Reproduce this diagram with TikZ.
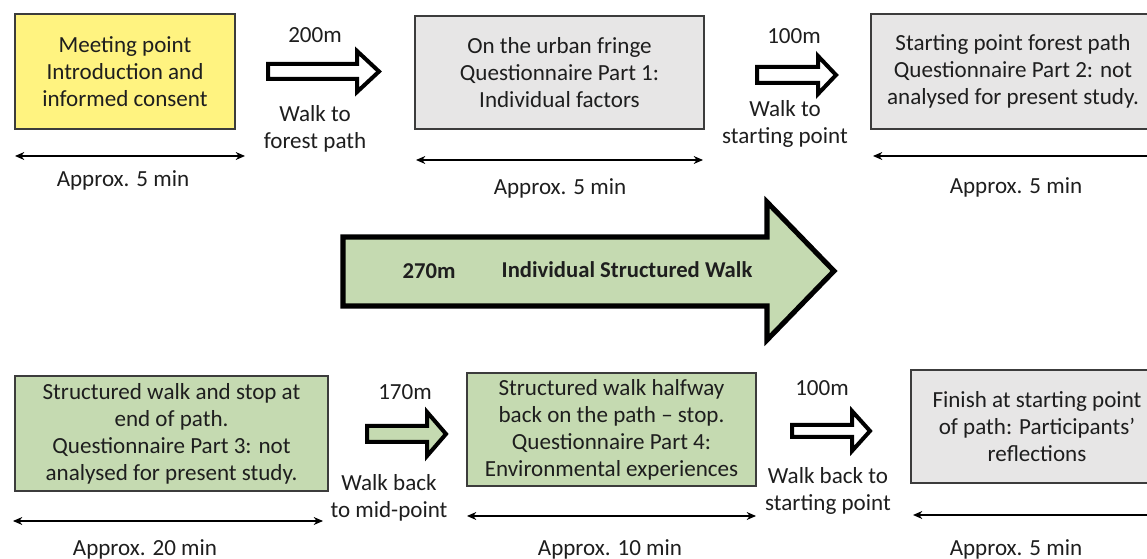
\documentclass[tikz,border=0pt]{standalone}
\usepackage{fontspec}
\setmainfont{Carlito}
\usetikzlibrary{arrows.meta}
\definecolor{boxyellow}{RGB}{255,243,128}
\definecolor{boxgray}{RGB}{231,230,230}
\definecolor{boxgreen}{RGB}{197,218,177}
\definecolor{edgegray}{RGB}{60,60,60}
\definecolor{txt}{RGB}{30,30,30}
\tikzset{
  stage/.style={draw=edgegray, line width=1pt, align=center, text=txt, inner sep=0pt,
    font=\fontsize{17.3}{20.3}\selectfont},
  lbl/.style={align=center, text=txt, inner sep=0pt, font=\fontsize{17.3}{20.3}\selectfont},
  boldlbl/.style={text=txt, inner sep=0pt, font=\fontsize{17}{20.3}\selectfont\bfseries},
  dimline/.style={draw=black, line width=0.9pt, {Stealth[length=7pt,width=6pt]}-{Stealth[length=7pt,width=6pt]}},
  blockarr/.style={draw=black, line width=3pt, line join=miter},
  bigarr/.style={draw=black, line width=3.8pt, line join=miter, fill=boxgreen},
}
\begin{document}
\begin{tikzpicture}[x=0.75pt,y=-0.75pt]
\useasboundingbox (0,0) rectangle (1147,559);
\clip (0,0) rectangle (1147,559);

% stage boxes
\node[stage, fill=boxyellow, minimum width=220*0.75pt, minimum height=115*0.75pt] (b1) at (125,71.5)
  {Meeting point\\Introduction and\\informed consent};
\node[stage, fill=boxgray, minimum width=289*0.75pt, minimum height=113*0.75pt] (b2) at (559.5,72.5)
  {On the urban fringe\\Questionnaire Part 1:\\Individual factors};
\node[stage, fill=boxgray, minimum width=284*0.75pt, minimum height=115*0.75pt] (b3) at (1013,71.5)
  {Starting point forest path\\Questionnaire Part 2: not\\analysed for present study.};
\node[stage, fill=boxgreen, minimum width=313*0.75pt, minimum height=115*0.75pt] (b4) at (171.5,433.5)
  {Structured walk and stop at\\end of path.\\Questionnaire Part 3: not\\analysed for present study.};
\node[stage, fill=boxgreen, minimum width=289*0.75pt, minimum height=113*0.75pt] (b5) at (611.5,429.5)
  {Structured walk halfway\\back on the path -- stop.\\Questionnaire Part 4:\\Environmental experiences};
\node[stage, fill=boxgray, minimum width=252*0.75pt, minimum height=113*0.75pt] (b6) at (1037,426.5)
  {Finish at starting point\\of path: Participants’\\reflections};

% block arrows between stages
\draw[blockarr, fill=white] (268,64) -- (357,64) -- (357,51) -- (379,71.5) -- (357,92) -- (357,79) -- (268,79) -- cycle;
\draw[blockarr, fill=white] (757,67) -- (818,67) -- (818,56) -- (836,75) -- (818,94) -- (818,83) -- (757,83) -- cycle;
\draw[blockarr, fill=boxgreen] (367,426) -- (427,426) -- (427,412) -- (446,434) -- (427,456) -- (427,442) -- (367,442) -- cycle;
\draw[blockarr, fill=white] (792,425) -- (852,425) -- (852,411) -- (870,431) -- (852,451) -- (852,437) -- (792,437) -- cycle;

% distance and walk labels
\node[lbl] (d1) at (315,35) {200m};
\node[lbl] (w1) at (315,128.5) {Walk to\\forest path};
\node[lbl] (d2) at (794,36) {100m};
\node[lbl] (w2) at (785,124) {Walk to\\starting point};
\node[lbl] (d3) at (405,392) {170m};
\node[lbl] (w3) at (389,497.5) {Walk back\\to mid-point};
\node[lbl] (d4) at (822,388) {100m};
\node[lbl] (w4) at (828,491) {Walk back to\\starting point};

% big arrow
\draw[bigarr] (343,237) -- (767,237) -- (767,202) -- (834,271) -- (767,340) -- (767,306) -- (343,306) -- cycle;
\node[boldlbl] (len) at (429,271) {270m};
\node[boldlbl] (title) at (627,270) {Individual Structured Walk};

% duration markers
\coordinate (t1a) at (15,156);  \coordinate (t1b) at (245,156);
\coordinate (t2a) at (416,160); \coordinate (t2b) at (703,160);
\coordinate (t3a) at (873,156); \coordinate (t3b) at (1165,156);
\coordinate (t4a) at (13,521);  \coordinate (t4b) at (323,521);
\coordinate (t5a) at (467,516); \coordinate (t5b) at (756,516);
\coordinate (t6a) at (913,515); \coordinate (t6b) at (1165,515);
\draw[dimline] (t1a) -- (t1b);
\draw[dimline] (t2a) -- (t2b);
\draw[dimline] (t3a) -- (t3b);
\draw[dimline] (t4a) -- (t4b);
\draw[dimline] (t5a) -- (t5b);
\draw[dimline] (t6a) -- (t6b);
\node[lbl] (a1) at (123,180) {Approx. 5 min};
\node[lbl] (a2) at (560,188) {Approx. 5 min};
\node[lbl] (a3) at (1016,187) {Approx. 5 min};
\node[lbl] (a4) at (145,549) {Approx. 20 min};
\node[lbl] (a5) at (610,549) {Approx. 10 min};
\node[lbl] (a6) at (1016,549) {Approx. 5 min};
\end{tikzpicture}
\end{document}
